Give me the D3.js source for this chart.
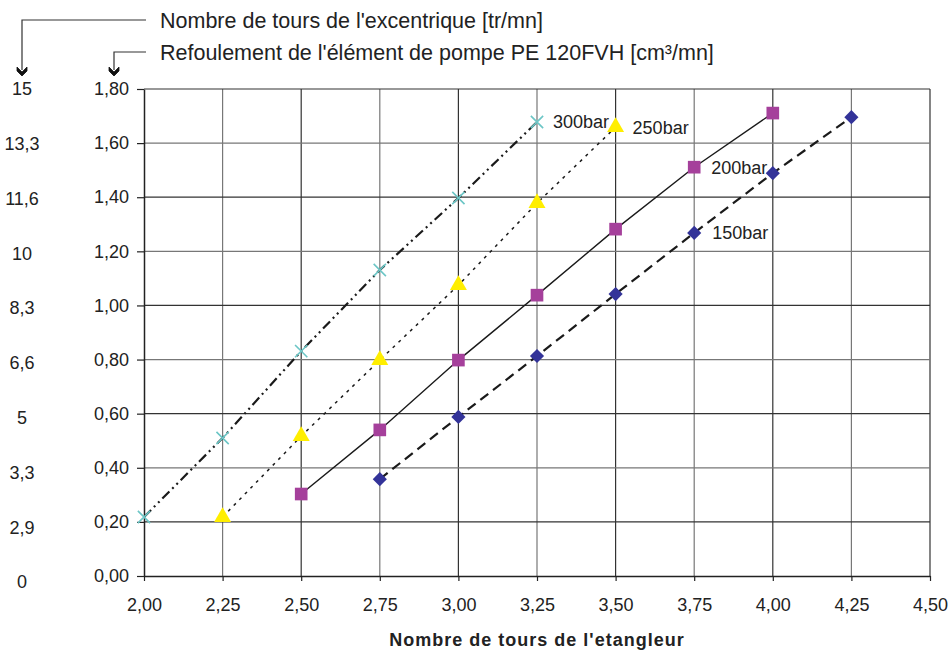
<!DOCTYPE html>
<html>
<head>
<meta charset="utf-8">
<script src="https://cdn.jsdelivr.net/npm/d3@7"></script>
<style>
  html, body { margin: 0; padding: 0; background: #fff; }
  svg { display: block; font-family: "Liberation Sans", Arial, sans-serif; }
</style>
</head>
<body>
<svg id="chart" width="951" height="650"></svg>
<script>
// Pump delivery vs. spreader speed, one series per pressure
const xTicks = [2.00, 2.25, 2.50, 2.75, 3.00, 3.25, 3.50, 3.75, 4.00, 4.25, 4.50];
const yTicks = [0, 0.2, 0.4, 0.6, 0.8, 1.0, 1.2, 1.4, 1.6, 1.8];
const eccentricLabels = ["15", "13,3", "11,6", "10", "8,3", "6,6", "5", "3,3", "2,9", "0"];

const seriesNames = ["150bar", "200bar", "250bar", "300bar"];
const x150 = [2.75, 3.00, 3.25, 3.50, 3.75, 4.00, 4.25];
const y150 = [0.358, 0.588, 0.813, 1.042, 1.268, 1.489, 1.696];
const x200 = [2.50, 2.75, 3.00, 3.25, 3.50, 3.75, 4.00];
const y200 = [0.303, 0.540, 0.798, 1.038, 1.282, 1.511, 1.711];
const x250 = [2.25, 2.50, 2.75, 3.00, 3.25, 3.50];
const y250 = [0.218, 0.517, 0.798, 1.075, 1.378, 1.659];
const x300 = [2.00, 2.25, 2.50, 2.75, 3.00, 3.25];
const y300 = [0.218, 0.510, 0.831, 1.131, 1.397, 1.678];

const fmt = d3.formatLocale({ decimal: ",", thousands: " ", grouping: [3], currency: ["", ""] });
const f2 = fmt.format(".2f");

const svg = d3.select("#chart");
const M = { left: 144, right: 930, top: 89, bottom: 576 };
const FONT = "Liberation Sans, Arial, sans-serif";

const x = d3.scaleLinear().domain([2.0, 4.5]).range([M.left, M.right]);
const y = d3.scaleLinear().domain([0, 1.8]).range([M.bottom, M.top]);

// Grid
const grid = svg.append("g");
grid.selectAll("line.v").data(xTicks.slice(1)).join("line")
  .attr("x1", d => x(d)).attr("x2", d => x(d))
  .attr("y1", M.top).attr("y2", M.bottom)
  .attr("stroke", (d, i) => i % 2 ? "#333" : "#777").attr("stroke-width", 1.2);
grid.selectAll("line.h").data(yTicks.slice(1)).join("line")
  .attr("x1", M.left).attr("x2", M.right)
  .attr("y1", d => y(d)).attr("y2", d => y(d))
  .attr("stroke", (d, i) => i % 2 ? "#777" : "#333").attr("stroke-width", 1.2);

// Axes
const xAxis = svg.append("g").attr("transform", `translate(0,${M.bottom})`)
  .call(d3.axisBottom(x).tickValues(xTicks).tickFormat(f2).tickSize(5).tickSizeOuter(0));
const yAxis = svg.append("g").attr("transform", `translate(${M.left},0)`)
  .call(d3.axisLeft(y).tickValues(yTicks).tickFormat(f2).tickSize(7).tickSizeOuter(0));
[xAxis, yAxis].forEach(a => {
  a.select(".domain").attr("stroke", "#222").attr("stroke-width", 1.5);
  a.selectAll(".tick line").attr("stroke", "#222").attr("stroke-width", 1.2);
  a.selectAll("text").attr("fill", "#222").attr("font-size", 18).attr("font-family", FONT);
});
xAxis.selectAll("text").attr("y", 22);
yAxis.selectAll("text").attr("x", -15);

// Secondary column: eccentric speed
const e = d3.scaleLinear().domain([0, eccentricLabels.length - 1]).range([89, 582]);
svg.append("g").selectAll("text").data(eccentricLabels).join("text")
  .attr("x", 22).attr("y", (d, i) => e(i)).attr("dy", "0.35em")
  .attr("text-anchor", "middle").attr("font-size", 18).attr("fill", "#222").text(d => d);

// Header callouts with down-pointing chevrons
const header = svg.append("g").attr("fill", "none").attr("stroke", "#333").attr("stroke-width", 1.2);
header.append("path").attr("d", "M146,20 H22 V70");
header.append("path").attr("d", "M146,52 H114 V70");
function chevron(cx, cy) {
  svg.append("path")
    .attr("d", `M${cx - 5},${cy - 5} L${cx},${cy} L${cx + 5},${cy - 5} L${cx + 5},${cy - 1} L${cx},${cy + 4} L${cx - 5},${cy - 1} Z`)
    .attr("fill", "#111").attr("stroke", "#111").attr("stroke-width", 0.8);
}
chevron(22, 72);
chevron(114, 72);
svg.append("text").attr("x", 160).attr("y", 28).attr("font-size", 21.5).attr("fill", "#222")
  .text("Nombre de tours de l'excentrique [tr/mn]");
svg.append("text").attr("x", 160).attr("y", 60).attr("font-size", 21.5).attr("fill", "#222")
  .text("Refoulement de l'élément de pompe PE 120FVH [cm³/mn]");

// X-axis title
svg.append("text").attr("x", 537).attr("y", 646).attr("text-anchor", "middle")
  .attr("font-size", 18).attr("font-weight", "bold").attr("letter-spacing", 1).attr("fill", "#222")
  .text("Nombre de tours de l'etangleur");

// Series
const series = [
  { name: seriesNames[0], xs: x150, ys: y150, dash: "10,6", width: 2.2, marker: "diamond", color: "#333399" },
  { name: seriesNames[1], xs: x200, ys: y200, dash: null, width: 1.4, marker: "square", color: "#a5409b" },
  { name: seriesNames[2], xs: x250, ys: y250, dash: "3,5", width: 1.5, marker: "triangle", color: "#ffee00" },
  { name: seriesNames[3], xs: x300, ys: y300, dash: "10,4,2,4,2,4", width: 2.2, marker: "cross", color: "#6cc6c6" }
];

const line = d3.line().x(d => x(d[0])).y(d => y(d[1]));
const symbols = {
  diamond: d3.symbol().type(d3.symbolSquare).size(100),
  square: d3.symbol().type(d3.symbolSquare).size(160),
  triangle: d3.symbol().type(d3.symbolTriangle).size(125),
  cross: d3.symbol().type(d3.symbolX).size(100)
};

series.forEach(s => {
  const pts = s.xs.map((v, i) => [v, s.ys[i]]);
  svg.append("path").datum(pts).attr("d", line)
    .attr("fill", "none").attr("stroke", "#1a1a1a").attr("stroke-width", s.width)
    .attr("stroke-dasharray", s.dash);
  const g = svg.append("g");
  g.selectAll("path").data(pts).join("path")
    .attr("d", symbols[s.marker])
    .attr("transform", d => {
      let t = `translate(${x(d[0])},${y(d[1])})`;
      if (s.marker === "diamond") t += " rotate(45)";
      return t;
    })
    .attr("fill", s.marker === "cross" ? "none" : s.color)
    .attr("stroke", s.marker === "cross" ? s.color : "none")
    .attr("stroke-width", s.marker === "cross" ? 1.6 : 0);
});

// Series labels beside a point of each curve
series.forEach(s => {
  const n = s.xs.length - 1;
  let lx, ly;
  if (s.name === "150bar") { lx = x(s.xs[n - 2]) + 18; ly = y(s.ys[n - 2]) + 6; }
  else if (s.name === "200bar") { lx = x(s.xs[n - 1]) + 17; ly = y(s.ys[n - 1]) + 7; }
  else if (s.name === "250bar") { lx = x(s.xs[n]) + 17; ly = y(s.ys[n]) + 7; }
  else { lx = x(s.xs[n]) + 16; ly = y(s.ys[n]) + 6; }
  svg.append("text").attr("x", lx).attr("y", ly).attr("font-size", 18).attr("fill", "#222").text(s.name);
});
</script>
</body>
</html>
